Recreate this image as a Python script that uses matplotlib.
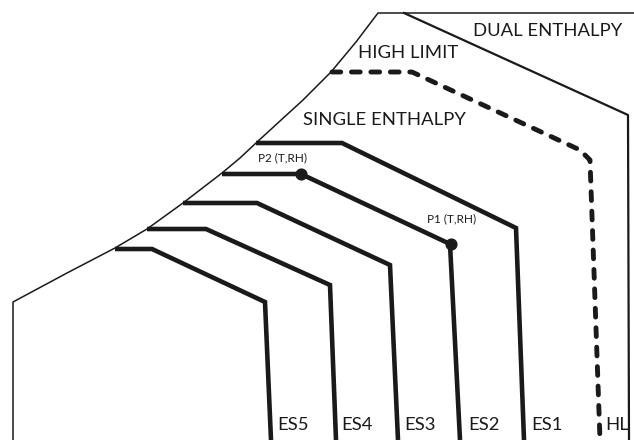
import matplotlib
matplotlib.use("Agg")
import matplotlib.pyplot as plt

# chart region outline (pixel-like coordinates, y down)
boundary_x = [13, 13, 67, 115, 147, 183, 222, 240, 256, 280, 303, 331, 356, 378, 634]
boundary_y = [440, 302, 273, 248, 229, 203, 173, 158, 143, 121, 100, 72, 42, 13, 13]

dual_x = [404, 628, 629]
dual_y = [13, 115, 440]

# enthalpy switchover lines: start on curve, knee, bend, bottom
es_names = ["ES1", "ES2", "ES3", "ES4", "ES5"]
es_x = [
    [256, 342, 516, 524],
    [222, 301, 450, 460],
    [183, 257, 390, 398],
    [147, 206, 330, 336],
    [115, 152, 265, 271],
]
es_y = [
    [143, 143, 228, 440],
    [174, 174, 244, 440],
    [203, 203, 265, 440],
    [229, 229, 285, 440],
    [249, 249, 302, 440],
]

hl_x = [332, 412, 580, 590, 600]
hl_y = [72, 72, 150, 160, 440]

points_x = [301, 451]
points_y = [174, 244]
point_labels = ["P2 (T,RH)", "P1 (T,RH)"]
point_label_xy = [(282, 158), (452, 219)]

region_labels = ["DUAL ENTHALPY", "HIGH LIMIT", "SINGLE ENTHALPY"]
region_label_xy = [(548, 31), (408, 53), (384, 120)]

bottom_labels = ["ES5", "ES4", "ES3", "ES2", "ES1", "HL"]
bottom_label_x = [293, 357, 420, 484, 547, 617]

FONT = "Lato"

fig = plt.figure(figsize=(6.34, 4.40), dpi=100)
ax = fig.add_axes([0, 0, 1, 1])
ax.set_xlim(0, 634)
ax.set_ylim(440, 0)
ax.axis("off")

ink = "#1a1a1a"
ax.plot(boundary_x, boundary_y, color=ink, lw=1.1)
ax.plot(dual_x, dual_y, color=ink, lw=1.6)

for xs, ys in zip(es_x, es_y):
    ax.plot(xs, ys, color=ink, lw=3.3, solid_capstyle="butt", solid_joinstyle="miter")

ax.plot(hl_x, hl_y, color=ink, lw=3.5, linestyle=(0, (1.8, 2.2)),
        dash_capstyle="round")

ax.scatter(points_x, points_y, s=60, color=ink, zorder=3)

for text, (x, y) in zip(point_labels, point_label_xy):
    ax.text(x, y, text, fontsize=8.5, family=FONT, ha="center", va="center", color=ink)

for text, (x, y) in zip(region_labels, region_label_xy):
    ax.text(x, y, text, fontsize=13.3, family=FONT, ha="center", va="center", color=ink)

for text, x in zip(bottom_labels, bottom_label_x):
    ax.text(x, 425, text, fontsize=13.3, family=FONT, ha="center", va="center", color=ink)

fig.savefig("out.png", dpi=100)
